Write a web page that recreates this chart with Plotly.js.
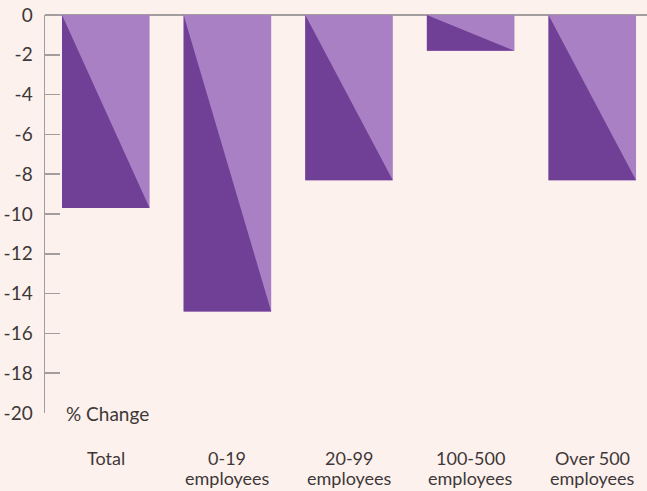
<!DOCTYPE html>
<html>
<head>
<meta charset="utf-8">
<script src="https://cdn.plot.ly/plotly-3.0.1.min.js"></script>
<style>
html,body{margin:0;padding:0;background:#fdf1ee;}
#chart{width:647px;height:491px;}
</style>
</head>
<body>
<div id="chart"></div>
<script>
var categories = ["Total", "0-19 employees", "20-99 employees", "100-500 employees", "Over 500 employees"];
var labelLine1 = ["Total", "0-19", "20-99", "100-500", "Over 500"];
var labelLine2 = ["", "employees", "employees", "employees", "employees"];
var pctChange = [-9.7, -14.9, -8.3, -1.8, -8.3];
var yTicks = [0, -2, -4, -6, -8, -10, -12, -14, -16, -18, -20];

var barWidth = 0.72;
var darkColor = "#703f96";
var lightColor = "#aa80c5";
var idx = categories.map(function(_, i){ return i; });

var traces = [{
  type: "bar",
  x: idx,
  y: pctChange,
  width: barWidth,
  marker: {color: lightColor, line: {width: 0}},
  hoverinfo: "skip",
  showlegend: false
}];

// dark lower-left triangle of each bar
pctChange.forEach(function(v, i){
  var x0 = i - barWidth/2, x1 = i + barWidth/2;
  traces.push({
    type: "scatter",
    mode: "lines",
    x: [x0, x0, x1, x0],
    y: [0, v, v, 0],
    fill: "toself",
    fillcolor: darkColor,
    line: {width: 0, color: darkColor},
    hoverinfo: "skip",
    showlegend: false
  });
});

var font = {family: "Lato, Noto Sans, sans-serif", size: 19, color: "#3d3838"};
var xfont = {family: "Lato, Noto Sans, sans-serif", size: 18, color: "#3d3838"};

var annotations = [{
  xref: "paper", yref: "y",
  x: 0, y: -20,
  xshift: 19,
  text: "% Change",
  showarrow: false,
  xanchor: "left", yanchor: "middle",
  font: font
}];
idx.forEach(function(i){
  annotations.push({
    xref: "x", yref: "paper", x: i, y: 0, yshift: -45,
    text: labelLine1[i], showarrow: false,
    xanchor: "center", yanchor: "middle", font: xfont
  });
  if (labelLine2[i]) {
    annotations.push({
      xref: "x", yref: "paper", x: i, y: 0, yshift: -65,
      text: labelLine2[i], showarrow: false,
      xanchor: "center", yanchor: "middle", font: xfont
    });
  }
});

var layout = {
  width: 647, height: 491,
  margin: {l: 45, r: 0, t: 15, b: 78},
  paper_bgcolor: "#fdf1ee",
  plot_bgcolor: "#fdf1ee",
  font: font,
  showlegend: false,
  xaxis: {
    range: [-0.5, 4.45],
    tickvals: idx,
    ticktext: categories,
    showticklabels: false,
    ticks: "",
    showgrid: false,
    zeroline: false,
    showline: false,
    fixedrange: true
  },
  yaxis: {
    range: [-20, 0],
    tickvals: yTicks,
    ticktext: yTicks.map(String),
    ticks: "inside",
    ticklen: 15,
    tickwidth: 1.5,
    tickcolor: "#a39d9d",
    showline: true,
    linecolor: "#a39d9d",
    linewidth: 1.5,
    showgrid: false,
    zeroline: true,
    zerolinecolor: "#a39d9d",
    zerolinewidth: 1.5,
    ticklabelstandoff: 7,
    tickfont: font,
    fixedrange: true
  },
  annotations: annotations
};

Plotly.newPlot("chart", traces, layout, {displayModeBar: false, staticPlot: true});
</script>
</body>
</html>
